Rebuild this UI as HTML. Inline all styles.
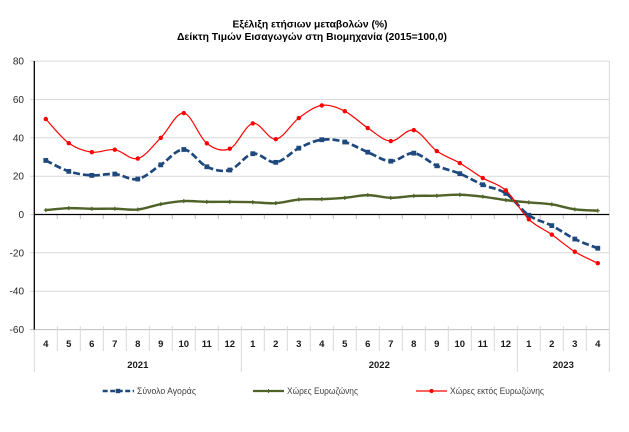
<!DOCTYPE html>
<html><head><meta charset="utf-8">
<style>
html,body{margin:0;padding:0;background:#fff;}
svg{display:block;}
text{font-family:"Liberation Sans",sans-serif;}
</style></head>
<body>
<svg id="c" width="629" height="432" viewBox="0 0 629 432" xmlns="http://www.w3.org/2000/svg">
<rect x="0" y="0" width="629" height="432" fill="#fff"/>
<!-- title -->
<text x="310" y="27.5" font-size="10" font-weight="bold" fill="#000" text-anchor="middle" textLength="155" lengthAdjust="spacingAndGlyphs">Εξέλιξη ετήσιων μεταβολών (%)</text>
<text x="312" y="40" font-size="10" font-weight="bold" fill="#000" text-anchor="middle" textLength="270" lengthAdjust="spacingAndGlyphs">Δείκτη Τιμών Εισαγωγών στη Βιομηχανία (2015=100,0)</text>
<!-- gridlines -->
<g stroke="#d9d9d9" stroke-width="1">
<line x1="30" y1="61.1" x2="609.3" y2="61.1"/>
<line x1="30" y1="99.5" x2="609.3" y2="99.5"/>
<line x1="30" y1="137.8" x2="609.3" y2="137.8"/>
<line x1="30" y1="176.2" x2="609.3" y2="176.2"/>
<line x1="30" y1="252.8" x2="609.3" y2="252.8"/>
<line x1="30" y1="291.2" x2="609.3" y2="291.2"/>
</g>
<line x1="30" y1="214.5" x2="34.3" y2="214.5" stroke="#d9d9d9"/>
<!-- bottom axis -->
<line x1="30" y1="329.6" x2="609.3" y2="329.6" stroke="#bfbfbf" stroke-width="1"/>
<!-- right border -->
<line x1="609.3" y1="61" x2="609.3" y2="372" stroke="#d9d9d9" stroke-width="1"/>
<g id="seps" stroke="#d9d9d9" stroke-width="1"></g>
<g id="zt" stroke="#bfbfbf" stroke-width="1"></g>
<!-- left axis -->
<line x1="34.3" y1="61" x2="34.3" y2="329.6" stroke="#000" stroke-width="1.3"/>
<line x1="34.3" y1="329.6" x2="34.3" y2="372" stroke="#d9d9d9" stroke-width="1"/>
<!-- zero line -->
<line x1="34.3" y1="214.5" x2="609.3" y2="214.5" stroke="#000" stroke-width="1.3"/>
<!-- y labels -->
<g font-size="10" fill="#262626" text-anchor="end">
<text x="24" y="64.6">80</text>
<text x="24" y="103">60</text>
<text x="24" y="141.3">40</text>
<text x="24" y="179.7">20</text>
<text x="24" y="218">0</text>
<text x="24" y="256.3">-20</text>
<text x="24" y="294.7">-40</text>
<text x="24" y="333.1">-60</text>
</g>
<!-- month labels -->
<g id="ml" font-size="9.5" font-weight="bold" fill="#1a1a1a" text-anchor="middle"></g>
<g font-size="9.5" font-weight="bold" fill="#1a1a1a" text-anchor="middle">
<text x="137.8" y="368">2021</text>
<text x="379.3" y="368">2022</text>
<text x="563.3" y="368">2023</text>
</g>
<!-- series -->
<path id="pg" d="" fill="none" stroke="#4F6228" stroke-width="2.4" stroke-linejoin="round"/>
<g id="mg" fill="#4F6228" stroke="#4F6228"></g>
<path id="pb" d="" fill="none" stroke="#1F497D" stroke-width="2.7" stroke-dasharray="7 3"/>
<g id="mb" fill="#1F497D"></g>
<path id="pr" d="" fill="none" stroke="#FF0000" stroke-width="1.2"/>
<g id="mr" fill="#FF0000"></g>
<!-- legend -->
<line x1="102.7" y1="391" x2="134" y2="391" stroke="#1F497D" stroke-width="2.5" stroke-dasharray="5 2.5"/>
<rect x="115.8" y="388.8" width="4.4" height="4.4" fill="#1F497D"/>
<text x="137" y="394.2" font-size="9" fill="#404040" textLength="59" lengthAdjust="spacingAndGlyphs">Σύνολο Αγοράς</text>
<line x1="253" y1="391" x2="284" y2="391" stroke="#4F6228" stroke-width="2.3"/>
<path d="M266.5 391h4M268.5 389v4" stroke="#4F6228" stroke-width="1"/>
<text x="287" y="394.2" font-size="9" fill="#404040" textLength="71" lengthAdjust="spacingAndGlyphs">Χώρες Ευρωζώνης</text>
<line x1="416" y1="391" x2="447" y2="391" stroke="#FF0000" stroke-width="1.2"/>
<circle cx="431.5" cy="391" r="2.1" fill="#FF0000"/>
<text x="450" y="394.2" font-size="9" fill="#404040" textLength="94" lengthAdjust="spacingAndGlyphs">Χώρες εκτός Ευρωζώνης</text>
</svg>
<script>
(function(){
var NS="http://www.w3.org/2000/svg";
function el(tag,attrs,parent,txt){var e=document.createElementNS(NS,tag);for(var k in attrs)e.setAttribute(k,attrs[k]);if(txt!==undefined)e.textContent=txt;parent.appendChild(e);return e;}
var blue=[28.2,22.5,20.4,21.1,18.5,25.9,33.9,24.9,23.2,31.7,27.2,34.6,39.0,37.8,32.5,27.8,32.0,25.4,21.3,15.5,11.0,-0.4,-5.8,-12.8,-17.6];
var green=[2.3,3.3,3.0,3.0,2.6,5.4,7.0,6.6,6.6,6.4,5.9,7.8,8.0,8.7,10.1,8.7,9.7,9.8,10.3,9.3,7.5,6.3,5.3,2.7,2.0];
var red=[49.8,37.2,32.5,33.8,29.2,40.0,52.9,37.1,34.3,47.5,39.3,50.3,56.9,53.9,45.1,38.3,44.0,33.1,26.8,19.0,12.6,-2.5,-10.5,-19.4,-25.4];
function X(i){return 45.8+23*i;}
function Y(v){return 214.5-v*1.9175;}
function pts(a){return a.map(function(v,i){return [X(i),Y(v)];});}
function smooth(p){
  var d="M"+p[0][0].toFixed(2)+" "+p[0][1].toFixed(2);
  for(var i=0;i<p.length-1;i++){
    var p0=p[i-1]||p[i],p1=p[i],p2=p[i+1],p3=p[i+2]||p[i+1];
    var c1x=p1[0]+(p2[0]-p0[0])/6,c1y=p1[1]+(p2[1]-p0[1])/6;
    var c2x=p2[0]-(p3[0]-p1[0])/6,c2y=p2[1]-(p3[1]-p1[1])/6;
    d+="C"+c1x.toFixed(2)+" "+c1y.toFixed(2)+" "+c2x.toFixed(2)+" "+c2y.toFixed(2)+" "+p2[0].toFixed(2)+" "+p2[1].toFixed(2);
  }
  return d;
}
var pb=pts(blue),pg=pts(green),pr=pts(red);
document.getElementById("pb").setAttribute("d",smooth(pb));
document.getElementById("pg").setAttribute("d",smooth(pg));
document.getElementById("pr").setAttribute("d",smooth(pr));
var mb=document.getElementById("mb"),mg=document.getElementById("mg"),mr=document.getElementById("mr");
pb.forEach(function(p){el("rect",{x:p[0]-2.4,y:p[1]-2.4,width:4.8,height:4.8},mb);});
pg.forEach(function(p){el("path",{d:"M"+(p[0]-2)+" "+p[1]+"h4M"+p[0]+" "+(p[1]-2)+"v4",fill:"none","stroke-width":"1.2"},mg);});
pr.forEach(function(p){el("circle",{cx:p[0],cy:p[1],r:2.2},mr);});
var seps=document.getElementById("seps"),zt=document.getElementById("zt"),ml=document.getElementById("ml");
for(var k=1;k<25;k++){
  var x=34.3+23*k;
  var yr=(k==9||k==21);
  el("line",{x1:x,y1:326,x2:x,y2:yr?372:351},seps);
  el("line",{x1:x,y1:214.5,x2:x,y2:219},zt);
}
var months=[4,5,6,7,8,9,10,11,12,1,2,3,4,5,6,7,8,9,10,11,12,1,2,3,4];
months.forEach(function(m,i){el("text",{x:X(i),y:347},ml,String(m));});
})();
</script>
</body></html>
